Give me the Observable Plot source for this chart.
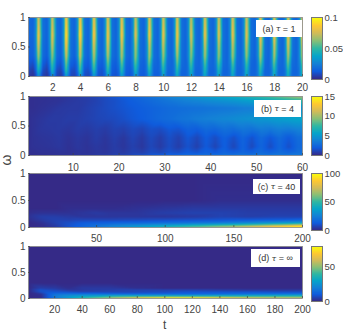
<!DOCTYPE html>
<html><head><meta charset="utf-8">
<script src="https://cdn.jsdelivr.net/npm/d3@7"></script>
<script src="https://cdn.jsdelivr.net/npm/@observablehq/plot@0.6"></script>
<style>
html,body{margin:0;padding:0;background:#fff;width:343px;height:334px;overflow:hidden}
#c{position:relative;width:343px;height:334px;font-family:"Liberation Sans",Arial,sans-serif;color:#444}
#c svg{position:absolute}
.tag{position:absolute;background:#fff;font-size:9px;display:flex;align-items:center;justify-content:center;white-space:pre;color:#333}
.tag i{font-family:"DejaVu Serif",serif;font-size:8px}
.lab{position:absolute;color:#444}
</style></head><body><div id="c"></div>
<script>
// Panel (a), tau = 1: five samples per stripe, twenty stripes, values in units of 0.001
const aOmega=[1,0.7,0.35,0.1,0];
const aPeriods=[1,2,3,4,5,6,7,8,9,10,11,12,13,14,15,16,17,18,19,20];
const aPhase=[-0.42,-0.22,-0.05,0.1,0.27];
const aLead=[17,16,14,7,3];
const aW100=[15,27,80,56,19, 15,28,78,54,19, 15,29,88,60,19, 15,30,90,61,19, 15,29,86,59,19, 15,29,84,58,19, 15,29,86,59,19, 15,28,78,54,19, 15,29,84,58,19, 15,28,80,56,19, 15,28,82,57,19, 15,28,76,54,19, 15,28,82,57,19, 15,28,79,55,19, 15,28,82,57,19, 15,28,79,55,19, 15,29,84,58,19, 15,28,82,57,19, 15,28,81,57,19, 15,28,79,55,19];
const aW70=[16,28,88,62,20, 15,29,84,59,20, 15,30,96,66,20, 15,30,97,67,20, 15,30,92,64,20, 15,30,90,63,20, 15,30,92,64,20, 15,29,84,59,20, 15,30,90,62,20, 15,29,86,60,20, 15,29,88,61,20, 15,28,82,58,20, 15,29,88,61,20, 15,29,85,59,20, 15,29,88,61,20, 15,29,85,59,20, 15,30,90,63,20, 15,29,88,61,20, 15,29,87,61,20, 15,29,85,59,20];
const aW35=[14,25,70,50,18, 13,26,66,48,18, 13,27,76,54,19, 14,28,78,55,19, 14,27,74,52,19, 15,27,74,52,19, 15,27,74,52,19, 15,27,68,49,19, 15,27,72,51,19, 15,27,69,49,19, 15,27,71,50,19, 15,27,66,48,19, 15,27,71,50,19, 15,27,69,49,19, 15,27,71,50,19, 15,27,69,49,19, 15,28,73,52,19, 15,27,71,50,19, 15,27,71,50,19, 15,27,69,49,19];
const aW10=[4,13,44,30,9, 5,14,44,30,9, 6,15,50,33,10, 8,16,52,34,11, 9,17,50,33,12, 10,18,50,33,13, 11,18,50,33,14, 12,19,47,32,15, 13,20,48,33,15, 14,20,47,32,16, 15,21,48,33,16, 15,21,46,32,16, 15,21,48,33,16, 15,21,47,32,16, 15,21,48,33,16, 15,21,47,32,16, 15,22,49,33,16, 15,21,48,33,16, 15,21,48,33,16, 15,21,47,32,16];
const aW0=[2,8,28,19,6, 3,9,29,19,7, 4,10,33,21,8, 6,11,35,23,9, 7,12,35,23,10, 9,14,36,24,11, 10,15,37,25,12, 11,16,36,25,13, 12,17,38,26,14, 13,18,38,26,15, 14,19,39,27,15, 15,19,39,27,16, 15,20,40,27,16, 16,20,40,27,16, 16,20,41,28,16, 16,21,41,28,16, 16,21,42,28,16, 16,21,42,28,16, 16,21,42,28,16, 16,21,41,28,16];

// Panel (b), tau = 4
const bT=[0.25,1,3,5,7,9,11,13,15,17,19,21,23,25,27,29,31,33,35,37,39,41,43,45,47,49,51,53,55,57,59,60];
const bOmega=[1,0.93,0.8,0.62,0.45,0.3,0.15,0.05,0];
const bW100=[.2,.2,.25,.3,.4,.5,.6,.8,1,1.3,1.6,1.9,2.2,2.6,3,3.4,3.8,4.2,4.6,5,5.3,5.6,5.9,6.2,6.6,7,7.5,8,8.6,9.2,9.8,10];
const bW93=[.2,.2,.25,.3,.35,.5,.6,.7,.9,1.2,1.4,1.7,2,2.3,2.6,2.9,3.2,3.5,3.8,4,4.3,4.5,4.7,4.9,5.2,5.5,5.8,6.1,6.4,6.8,7.2,7.4];
const bW80=[.2,.2,.3,.4,.55,.6,.6,.8,1,1.2,1.4,1.6,1.8,2,2.2,2.4,2.6,2.7,2.8,2.9,3,3.1,3.2,3.3,3.5,3.6,3.8,3.9,4,4.2,4.4,4.5];
const bW62=[.2,.3,.45,.6,.6,.7,.7,.85,1,1.1,1.2,1.4,1.7,1.9,2.2,2.5,2.7,3,3.2,3.5,3.7,3.9,4.1,4.3,4.5,4.7,4.9,5.1,5.3,5.5,5.7,5.8];
const bW45=[.2,.3,.5,.55,.6,.5,.7,.6,.8,.65,.95,.85,1.2,1,1.45,1.3,1.8,1.6,2.2,2,2.6,2.4,2.9,2.7,3.2,3,3.5,3.3,3.7,3.5,3.9,3.9];
const bW30=[.2,.3,.4,.45,.55,.35,.55,.4,.7,.45,.8,.5,1,.6,1.2,.75,1.4,.9,1.7,1.1,1.9,1.3,2.1,1.4,2.3,1.5,2.5,1.7,2.6,1.8,2.7,2.7];
const bW15=[.2,.3,.35,.4,.5,.3,.5,.35,.55,.4,.7,.45,.85,.5,1.1,.65,1.3,.75,1.5,.85,1.8,1,2,1.1,2.2,1.2,2.3,1.3,2.4,1.4,2.5,2.5];
const bW05=[.2,.2,.3,.3,.35,.3,.4,.35,.5,.45,.7,.6,.95,.8,1.3,1.1,1.6,1.4,1.9,1.6,2.1,1.8,2.3,2,2.4,2.1,2.6,2.2,2.7,2.3,2.8,2.8];
const bW0=[.15,.15,.2,.25,.3,.3,.4,.45,.55,.65,.8,.95,1.15,1.4,1.7,1.9,2.2,2.4,2.6,2.7,2.8,2.9,3,3,3.1,3.1,3.2,3.2,3.2,3.3,3.3,3.3];

// Panel (c), tau = 40
const cT=[0.4,10,20,30,40,50,60,80,100,120,140,160,180,200];
const cOmega=[1,0.5,0.35,0.27,0.2,0.14,0.09,0.05,0.02,0];
const cW100=[0,0,0,0,0,0,0,0,0,0,0,0,0,0];
const cW50=[0,0,0,0,0,0,0,0,0,0,1,1,1,1];
const cW35=[0,0,0,1,1,1,1,2,3,4,4,4,4,4];
const cW27=[1,2,2,2,3,4,3,3,5,6,6,5,5,5];
const cW20=[2,5,5,4,3,3,3,3,3,4,6,5,6,6];
const cW14=[1,4,6,6,7,7,7,8,9,10,11,12,13,15];
const cW09=[0,2,6,9,12,13,14,15,17,19,21,25,30,35];
const cW05=[0,1,5,10,14,18,21,26,31,37,43,50,60,70];
const cW02=[0,1,4,10,15,20,25,34,43,53,63,73,84,96];
const cW0=[0,1,4,10,15,20,25,34,44,55,66,78,90,99];

// Panel (d), tau = infinity
const dT=[1,10,20,30,40,60,80,100,120,140,160,180,200];
const dOmega=[1,0.3,0.2,0.16,0.12,0.09,0.06,0.03,0.01,0];
const dW100=[0,0,0,0,0,0,0,0,0,0,0,0,0];
const dW30=[0,0,0,0,0,0,0,0,0,0,0,0,0];
const dW20=[0,4,3,1,3,3,1,0,0,0,0,0,0];
const dW16=[0,8,6,3,3,4,5,5,5,4,3,3,3];
const dW12=[0,7,9,8,6,6,6,7,9,9,9,8,8];
const dW09=[0,2,14,15,14,12,11,11,11,12,13,14,15];
const dW06=[0,1,17,22,25,27,27,27,27,28,29,30,31];
const dW03=[0,1,17,26,32,42,47,50,50,48,46,46,46];
const dW01=[0,1,16,26,38,54,68,76,76,70,64,60,58];
const dW0=[0,1,16,26,38,55,70,78,78,72,66,62,60];

// Axis ticks and colour bars
const aTicks=[2,4,6,8,10,12,14,16,18,20];
const bTicks=[10,20,30,40,50,60];
const cTicks=[50,100,150,200];
const dTicks=[20,40,60,80,100,120,140,160,180,200];
const omegaTicks=[0,0.5,1];
const parula=["#352a87","#0f5cdd","#1481d6","#06a4ca","#2eb7a4","#87bf77","#d1bb59","#fec832","#f9fb0e"];

const aRows=[aW100,aW70,aW35,aW10,aW0];
const aT=[0.25,...aPeriods.flatMap(p=>aPhase.map(f=>p+f))];
const aTable=aRows.flatMap((r,j)=>[aLead[j],...r].map((v,i)=>({t:aT[i],w:aOmega[j],v:v/1000})));
const grid=(ts,oms,rows)=>rows.flatMap((r,j)=>r.map((v,i)=>({t:ts[i],w:oms[j],v})));
const bTable=grid(bT,bOmega,[bW100,bW93,bW80,bW62,bW45,bW30,bW15,bW05,bW0]);
const cTable=grid(cT,cOmega,[cW100,cW50,cW35,cW27,cW20,cW14,cW09,cW05,cW02,cW0]);
const dTable=grid(dT,dOmega,[dW100,dW30,dW20,dW16,dW12,dW09,dW06,dW03,dW01,dW0]);

const panels=[
 {top:17,h:59,barH:62,t:aTable,x:[0.25,20],xt:aTicks,max:0.1,bt:[0,0.05,0.1],pad:9.5,tag:["(a) ","1"],box:[256,20,46,17]},
 {top:96,h:59,barH:59,t:bTable,x:[0.25,60],xt:bTicks,max:15,bt:[0,5,10,15],pad:10,tag:["(b) ","4"],box:[254,100,47,17]},
 {top:173,h:54,barH:57,t:cTable,x:[0.4,200],xt:cTicks,max:100,bt:[0,50,100],pad:9,tag:["(c) ","40"],box:[253,179,47,15]},
 {top:246,h:52,barH:55,t:dTable,x:[1,200],xt:dTicks,max:79,bt:[0,50],pad:9,tag:["(d) ","∞"],box:[251,249,49,18]}
];
const box=document.getElementById("c");
const colorOf=max=>({type:"linear",domain:[0,max],clamp:true,interpolate:d3.piecewise(d3.interpolateRgb,parula)});
const style={background:"transparent",fontFamily:'"Liberation Sans",Arial,sans-serif',fontSize:"10px",color:"#444"};
for(const p of panels){
 const svg=Plot.plot({width:318,height:p.h+32,marginLeft:28,marginRight:16,marginTop:8,marginBottom:24,style,
  x:{domain:p.x,axis:null},y:{domain:[0,1],axis:null},color:colorOf(p.max),
  marks:[
   Plot.raster(p.t,{x:"t",y:"w",fill:"v",interpolate:"barycentric"}),
   Plot.frame({stroke:"#888",strokeWidth:0.8}),
   Plot.axisX({ticks:p.xt,anchor:"bottom",tickSize:-2,tickPadding:p.pad,stroke:"#444",strokeWidth:0.7,label:null}),
   Plot.axisY({ticks:omegaTicks,anchor:"left",tickSize:-2,tickPadding:5,stroke:"#444",strokeWidth:0.7,label:null,tickFormat:d=>String(d)})
  ]});
 svg.style.left="0px";svg.style.top=(p.top-8)+"px";box.appendChild(svg);
 const levels=d3.range(65).map(i=>p.max*(64-i)/64);
 const bar=Plot.plot({width:37,height:p.barH+16,marginLeft:5,marginRight:21,marginTop:8,marginBottom:8,
  style:{...style,fontSize:"9.5px"},
  x:{domain:[0,1],axis:null},y:{domain:[0,p.max],axis:null},color:colorOf(p.max),
  marks:[
   Plot.raster(levels,{width:1,height:65,x1:0,x2:1,y1:p.max,y2:0,imageRendering:"auto"}),
   Plot.frame({stroke:"#777",strokeWidth:1}),
   Plot.axisY({ticks:p.bt,anchor:"right",tickSize:0,tickPadding:2,label:null,tickFormat:d=>String(d)})
  ]});
 bar.style.left="306px";bar.style.top=(p.top-8)+"px";box.appendChild(bar);
 const tag=document.createElement("div");tag.className="tag";
 tag.style.cssText=`left:${p.box[0]}px;top:${p.box[1]}px;width:${p.box[2]}px;height:${p.box[3]}px`;
 tag.innerHTML=`${p.tag[0]}<i>τ</i> = ${p.tag[1]}`;box.appendChild(tag);
}
const om=document.createElement("div");om.className="lab";om.textContent="ω";
om.style.cssText="left:1px;top:152px;font-size:14px;transform:rotate(-90deg)";box.appendChild(om);
const tl=document.createElement("div");tl.className="lab";tl.textContent="t";
tl.style.cssText="left:163px;top:318px;font-size:12px";box.appendChild(tl);
</script></body></html>
